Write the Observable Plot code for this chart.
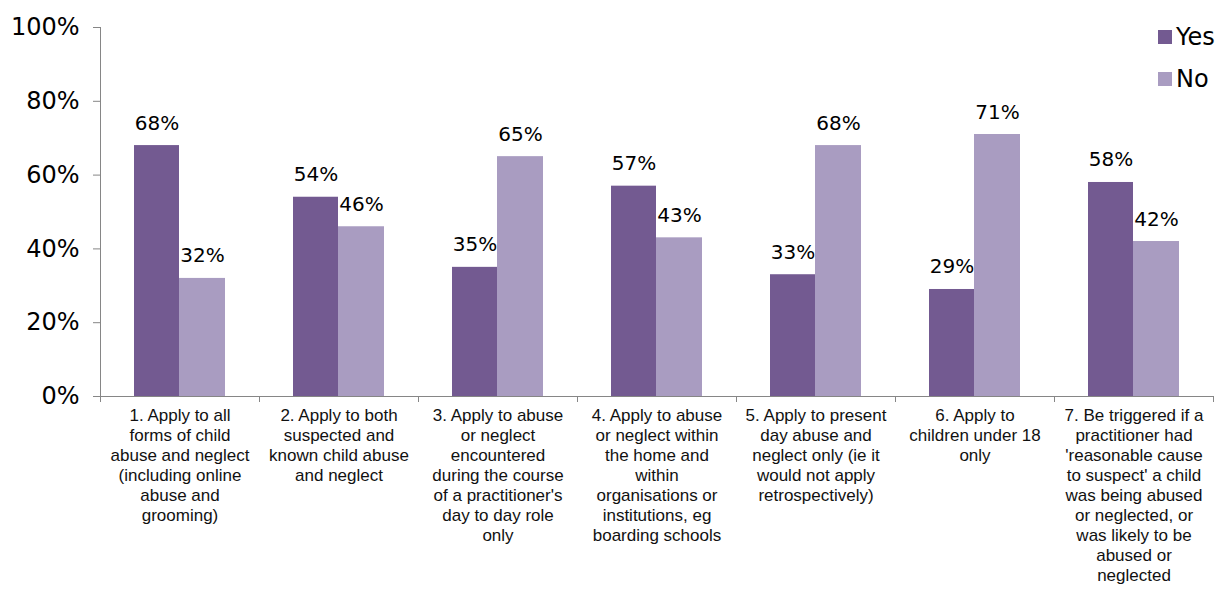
<!DOCTYPE html>
<html>
<head>
<meta charset="utf-8">
<script src="https://cdn.jsdelivr.net/npm/d3@7"></script>
<script src="https://cdn.jsdelivr.net/npm/@observablehq/plot@0.6"></script>
<style>
  html, body { margin: 0; padding: 0; background: #fff; }
  #wrap { position: relative; width: 1225px; height: 590px; font-family: "DejaVu Sans", sans-serif; }
  .lg { position: absolute; left: 1158px; font-size: 24px; color: #000; display: flex; align-items: center; line-height: 1; }
  .lg span.sw { display: inline-block; width: 14px; height: 14px; margin-right: 4px; }
</style>
</head>
<body>
<div id="wrap">
  <div id="chart"></div>
  <div class="lg" style="top:25px"><span class="sw" style="background:#735a91"></span>Yes</div>
  <div class="lg" style="top:67px"><span class="sw" style="background:#a99cc1"></span>No</div>
</div>
<script>
const categories = [
  "1. Apply to all\nforms of child\nabuse and neglect\n(including online\nabuse and\ngrooming)",
  "2. Apply to both\nsuspected and\nknown child abuse\nand neglect",
  "3. Apply to abuse\nor neglect\nencountered\nduring the course\nof a practitioner's\nday to day role\nonly",
  "4. Apply to abuse\nor neglect within\nthe home and\nwithin\norganisations or\ninstitutions, eg\nboarding schools",
  "5. Apply to present\nday abuse and\nneglect only (ie it\nwould not apply\nretrospectively)",
  "6. Apply to\nchildren under 18\nonly",
  "7. Be triggered if a\npractitioner had\n'reasonable cause\nto suspect' a child\nwas being abused\nor neglected, or\nwas likely to be\nabused or\nneglected"
];
const yesValues = [0.68, 0.54, 0.35, 0.57, 0.33, 0.29, 0.58];
const noValues  = [0.32, 0.46, 0.65, 0.43, 0.68, 0.71, 0.42];
const yTicks = [0, 0.2, 0.4, 0.6, 0.8, 1];

const keys = categories.map((c, i) => String(i + 1));
const yesData = keys.map((k, i) => ({key: k, value: yesValues[i]}));
const noData = keys.map((k, i) => ({key: k, value: noValues[i]}));
const pct = d3.format(".0%");

const W = 1225, ML = 100, MR = 12;
const bw = (W - ML - MR) / keys.length;
const gray = "#868686";
const wide = "'DejaVu Sans', sans-serif";

const chart = Plot.plot({
  width: W, height: 590,
  marginLeft: ML, marginRight: MR, marginTop: 27, marginBottom: 194,
  style: {fontFamily: "'Liberation Sans', Arial, sans-serif", background: "white", color: "#000"},
  x: {domain: keys, padding: 0, axis: null},
  y: {domain: [0, 1], axis: null},
  marks: [
    Plot.barY(yesData, {x: "key", y: "value", fill: "#735a91", insetLeft: 34, insetRight: bw - 79}),
    Plot.barY(noData, {x: "key", y: "value", fill: "#a99cc1", insetLeft: 79, insetRight: bw - 125}),
    Plot.text(yesData, {x: "key", y: "value", text: d => pct(d.value), dx: -(bw/2 - 56.5), dy: -16, lineAnchor: "bottom", fontSize: 20, fontFamily: wide, fill: "#000"}),
    Plot.text(noData, {x: "key", y: "value", text: d => pct(d.value), dx: 102 - bw/2, dy: -16, lineAnchor: "bottom", fontSize: 20, fontFamily: wide, fill: "#000"}),
    Plot.frame({anchor: "left", stroke: gray}),
    Plot.frame({anchor: "bottom", stroke: gray}),
    Plot.axisY({ticks: yTicks, tickFormat: pct, tickSize: 7, tickPadding: 14, fontSize: 24, fontFamily: wide, stroke: gray, fill: "#000", label: null}),
    Plot.axisX({tickSize: 0, tickPadding: 10, tickFormat: k => categories[+k - 1], fontSize: 17, lineHeight: 1.18, fill: "#111", label: null}),
    Plot.axisX({tickSize: 6, tickFormat: () => "", dx: -bw / 2, stroke: gray, label: null}),
    Plot.axisX({ticks: [keys[keys.length - 1]], tickSize: 6, tickFormat: () => "", dx: bw / 2, stroke: gray, label: null})
  ]
});
document.getElementById("chart").appendChild(chart);
</script>
</body>
</html>
